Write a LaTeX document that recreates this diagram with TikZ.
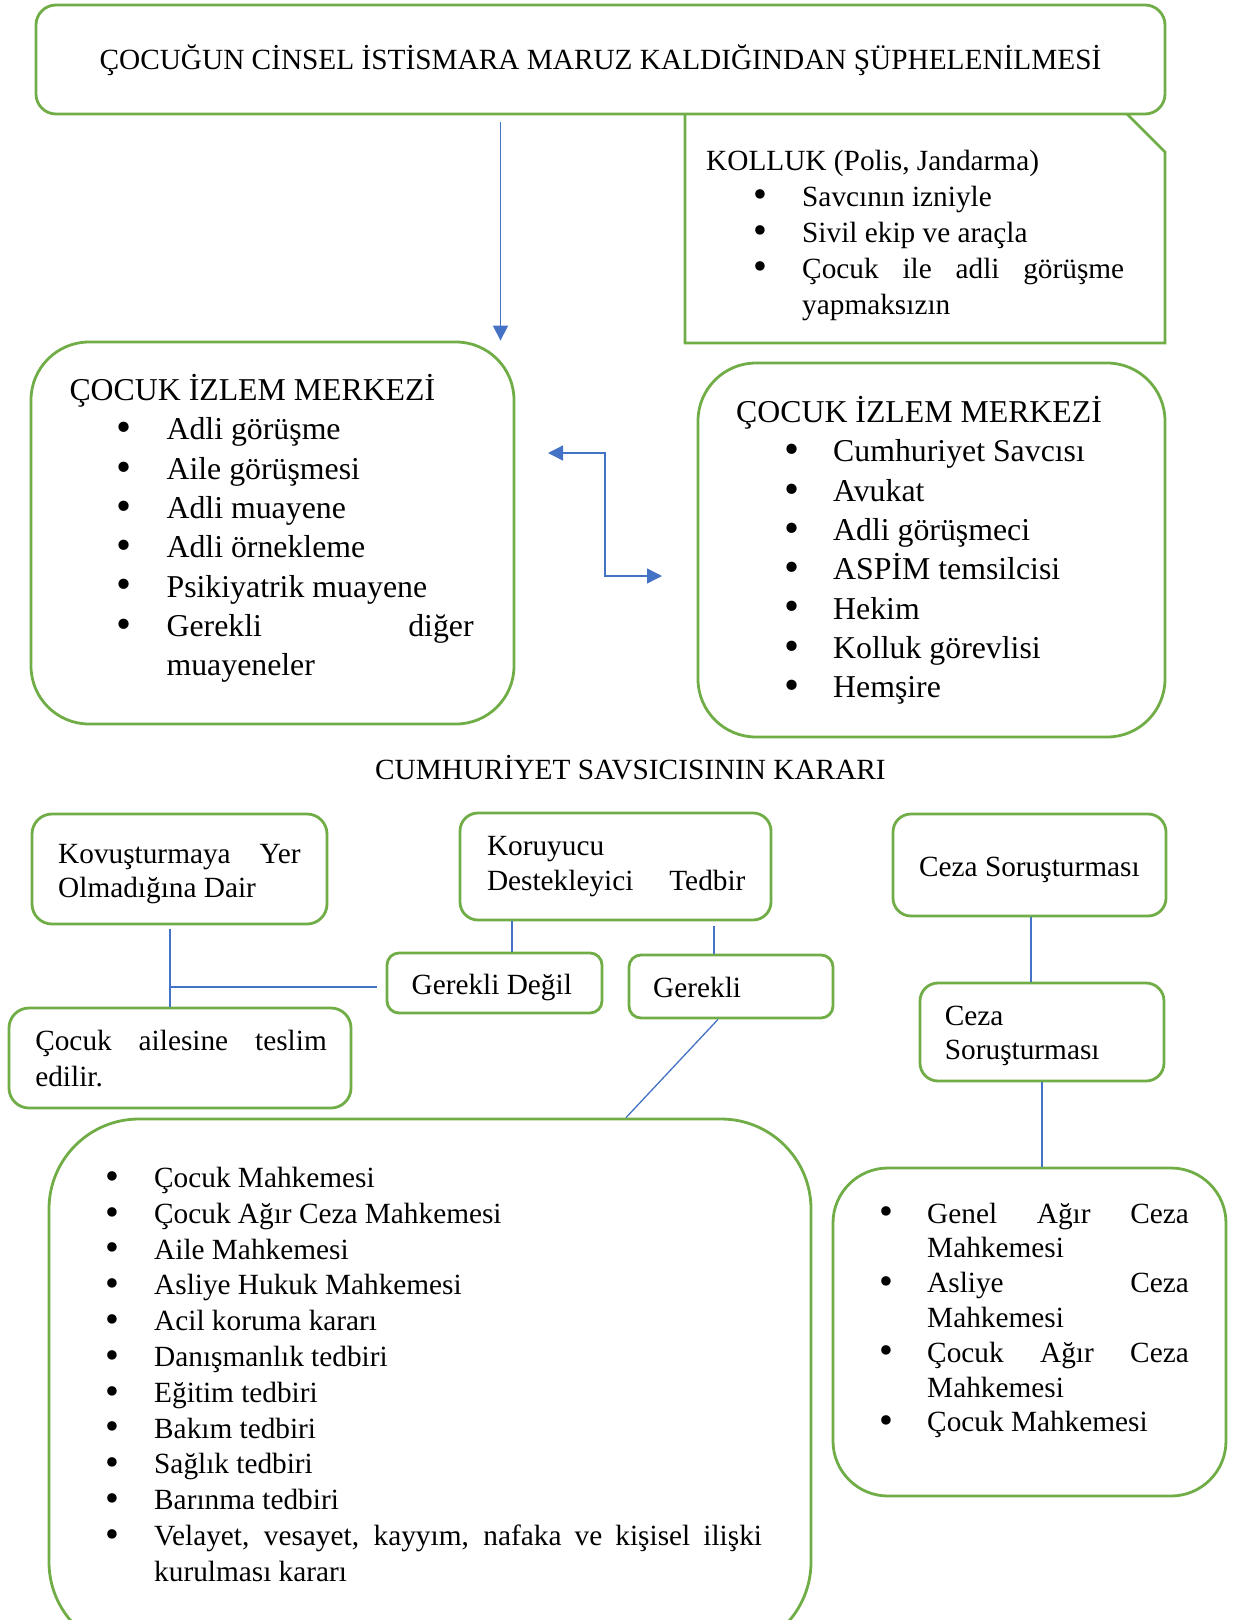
\documentclass[tikz,border=0pt]{standalone}
\usepackage{fontspec}
\setmainfont{Liberation Serif}
\usepackage{graphicx}
\usetikzlibrary{arrows.meta,fit,calc}

\definecolor{boxgreen}{HTML}{70AD47}
\definecolor{linkblue}{HTML}{4472C4}
\newcommand{\blt}{\makebox[0pt]{\raisebox{-0.06em}{\scalebox{1.35}{\textbullet}}}}

\begin{document}
\begin{tikzpicture}[x=1pt, y=-1pt,
  gbox/.style={draw=boxgreen, line width=2.8pt, inner sep=0pt, rounded corners=#1},
  gbox/.default=18pt,
  txt/.style={inner sep=0pt, anchor=base west, font=\fontsize{29.3pt}{#1}\selectfont},
  txt/.default=36pt,
  bigtxt/.style={inner sep=0pt, anchor=base west, font=\fontsize{31.8pt}{39.3pt}\selectfont},
  link/.style={draw=linkblue, line width=1.3pt},
  arr/.style={link, -{Triangle[length=15pt, width=15pt]}},
  darr/.style={link, {Triangle[length=15pt, width=15pt]}-{Triangle[length=15pt, width=15pt]}}
]
\useasboundingbox (0,0) rectangle (1232,1620);
\clip (0,0) rectangle (1232,1620);

% --- top: suspicion and police
\node[gbox=20pt, fit={(36,5) (1165,114)}] (susp) {};
\node[txt, anchor=base] (susp-t) at (600.5,69) {ÇOCUĞUN CİNSEL İSTİSMARA MARUZ KALDIĞINDAN ŞÜPHELENİLMESİ};

\coordinate (k1) at (685,114);
\coordinate (k2) at (685,343);
\coordinate (k3) at (1165,343);
\coordinate (k4) at (1165,152);
\coordinate (k5) at (1127,114);
\draw[boxgreen, line width=2.8pt] (k1) -- (k2) -- (k3) -- (k4) -- (k5);
\node[txt] (kol-t) at (706,170) {\begin{tabular}[t]{@{\hspace{54.7pt}}l@{\hspace{41.3pt}}l@{}}
  \multicolumn{2}{@{}l@{}}{KOLLUK (Polis, Jandarma)}\\
  \blt & Savcının izniyle\\
  \blt & Sivil ekip ve araçla\\
  \blt & \makebox[322pt][s]{Çocuk ile adli görüşme}\\
       & yapmaksızın
\end{tabular}};

% --- child monitoring centre
\node[gbox=58pt, fit={(31,342) (514,724)}] (cimA) {};
\node[bigtxt] (cimA-t) at (69.3,400.5) {\begin{tabular}[t]{@{\hspace{54.7pt}}l@{\hspace{42.4pt}}l@{}}
  \multicolumn{2}{@{}l@{}}{ÇOCUK İZLEM MERKEZİ}\\
  \blt & Adli görüşme\\
  \blt & Aile görüşmesi\\
  \blt & Adli muayene\\
  \blt & Adli örnekleme\\
  \blt & Psikiyatrik muayene\\
  \blt & \makebox[307pt][s]{Gerekli diğer}\\
       & muayeneler
\end{tabular}};

\node[gbox=58pt, fit={(698,363) (1165,737)}] (cimB) {};
\node[bigtxt] (cimB-t) at (736,422.5) {\begin{tabular}[t]{@{\hspace{55.7pt}}l@{\hspace{41.3pt}}l@{}}
  \multicolumn{2}{@{}l@{}}{ÇOCUK İZLEM MERKEZİ}\\
  \blt & Cumhuriyet Savcısı\\
  \blt & Avukat\\
  \blt & Adli görüşmeci\\
  \blt & ASPİM temsilcisi\\
  \blt & Hekim\\
  \blt & Kolluk görevlisi\\
  \blt & Hemşire
\end{tabular}};

\draw[arr] ([xshift=-100pt,yshift=-7pt]susp.south) -- ([xshift=-100pt]susp.south |- cimA.north);
\coordinate (dA) at (548,453);
\coordinate (dB) at (662,576);
\draw[darr] (dA) -| ($(dA)!0.5!(dB)$) |- (dB);

% --- decision
\node[txt, anchor=base] (karar) at (630.5,779.5) {CUMHURİYET SAVSICISININ KARARI};

\node[gbox=20pt, fit={(32,814) (327,924)}] (kov) {};
\node[txt=34pt] (kov-t) at (58,863) {\begin{tabular}[t]{@{}l@{}}
  \makebox[242.5pt][s]{Kovuşturmaya Yer}\\
  Olmadığına Dair
\end{tabular}};

\node[gbox=18pt, fit={(460,813) (771,920)}] (kor) {};
\node[txt=34.5pt] (kor-t) at (486.8,855.5) {\begin{tabular}[t]{@{}l@{}}
  Koruyucu\\
  \makebox[258.4pt][s]{Destekleyici Tedbir}
\end{tabular}};

\node[gbox=18pt, fit={(893,814) (1166,916)}] (cz1) {};
\node[txt] (cz1-t) at (918.9,876) {Ceza Soruşturması};

\node[gbox=12pt, fit={(387,953) (602,1013)}] (gd) {};
\node[txt] (gd-t) at (411.4,994.5) {Gerekli Değil};

\node[gbox=12pt, fit={(629,955) (833,1018)}] (ger) {};
\node[txt] (ger-t) at (653,997) {Gerekli};

\node[gbox=18pt, fit={(920,983) (1164,1081)}] (cz2) {};
\node[txt=34pt] (cz2-t) at (944.7,1025) {\begin{tabular}[t]{@{}l@{}}
  Ceza\\
  Soruşturması
\end{tabular}};

\node[gbox=20pt, fit={(9,1008) (351,1108)}] (teslim) {};
\node[txt=35.5pt] (teslim-t) at (35.1,1050.5) {\begin{tabular}[t]{@{}l@{}}
  \makebox[291.5pt][s]{Çocuk ailesine teslim}\\
  edilir.
\end{tabular}};

% --- courts
\node[gbox=90pt, fit={(49,1119) (811,1652)}] (bot) {};
\node[txt=35.8pt] (bot-t) at (112.7,1187.5) {\begin{tabular}[t]{@{}l@{\hspace{41.3pt}}l@{}}
  \blt & Çocuk Mahkemesi\\
  \blt & Çocuk Ağır Ceza Mahkemesi\\
  \blt & Aile Mahkemesi\\
  \blt & Asliye Hukuk Mahkemesi\\
  \blt & Acil koruma kararı\\
  \blt & Danışmanlık tedbiri\\
  \blt & Eğitim tedbiri\\
  \blt & Bakım tedbiri\\
  \blt & Sağlık tedbiri\\
  \blt & Barınma tedbiri\\
  \blt & \makebox[607.8pt][s]{Velayet, vesayet, kayyım, nafaka ve kişisel ilişki}\\
       & kurulması kararı
\end{tabular}};

\node[gbox=55pt, fit={(833,1168) (1226,1496)}] (rb) {};
\node[txt=34.8pt] (rb-t) at (885.8,1223) {\begin{tabular}[t]{@{}l@{\hspace{41.2pt}}l@{}}
  \blt & \makebox[261.6pt][s]{Genel Ağır Ceza}\\
       & Mahkemesi\\
  \blt & \makebox[261.6pt][s]{Asliye Ceza}\\
       & Mahkemesi\\
  \blt & \makebox[261.6pt][s]{Çocuk Ağır Ceza}\\
       & Mahkemesi\\
  \blt & Çocuk Mahkemesi
\end{tabular}};

% --- connectors
\draw[link] ([xshift=-9.5pt,yshift=-4pt]kov.south) -- ([xshift=-9.5pt]kov.south |- teslim.north);
\draw[link] ([xshift=-9.5pt,yshift=-4pt]kov.south |- gd.west) -- ([xshift=-9pt,yshift=-4pt]gd.west);
\draw[link] ([xshift=17.5pt]gd.north |- kor.south) -- ([xshift=17.5pt]gd.north);
\draw[link] ([xshift=-17pt,yshift=-5pt]ger.north |- kor.south) -- ([xshift=-17pt]ger.north);
\draw[link] ([xshift=-13pt]ger.south) -- ([xshift=196pt]bot.north);
\draw[link] ([xshift=1.5pt]cz1.south) -- ([xshift=1.5pt]cz1.south |- cz2.north);
\draw[link] (cz2.south) -- (cz2.south |- rb.north);
\end{tikzpicture}
\end{document}
